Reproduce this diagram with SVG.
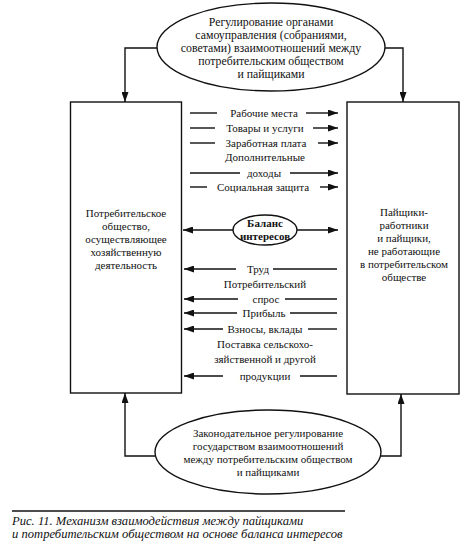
<svg xmlns="http://www.w3.org/2000/svg" width="474" height="550" viewBox="0 0 474 550">
<defs>
<marker id="ah" markerUnits="userSpaceOnUse" markerWidth="10" markerHeight="7" refX="10" refY="3.5" orient="auto">
<path d="M0,0 L10,3.5 L0,7 z" fill="#111"/>
</marker>
<style>
text{font-family:"Liberation Serif","Times New Roman",serif;font-size:11px;fill:#111;text-anchor:middle}
.b{font-weight:bold}
.big{font-size:11.8px}
.cap{font-style:italic;font-size:12.6px;text-anchor:start}
.shape{fill:#fff;stroke:#111;stroke-width:1.4}
.ln{fill:none;stroke:#111;stroke-width:1.4}
.ar{fill:none;stroke:#111;stroke-width:1.4;marker-end:url(#ah)}
</style>
</defs>
<rect width="474" height="550" fill="#fff"/>

<g id="connectors">
<path class="ar" d="M157,48 H125 V102"/>
<path class="ar" d="M385,48 H403 V102"/>
<path class="ar" d="M157,456 H125 V393"/>
<path class="ar" d="M380,456 H401 V394"/>
<path class="ln" d="M190,113 H217"/><path class="ar" d="M306,113 H338"/>
<path class="ln" d="M190,128 H215"/><path class="ar" d="M313,128 H338"/>
<path class="ln" d="M190,143 H215"/><path class="ar" d="M318,143 H338"/>
<path class="ln" d="M190,173 H240"/><path class="ar" d="M290,173 H338"/>
<path class="ln" d="M190,187 H207"/><path class="ar" d="M320,187 H338"/>
<path class="ar" d="M233,230 H183"/>
<path class="ar" d="M297,230 H338"/>
<path class="ar" d="M236,269 H184"/><path class="ln" d="M273,269 H337"/>
<path class="ar" d="M238,299 H184"/><path class="ln" d="M285,299 H337"/>
<path class="ar" d="M237,313 H184"/><path class="ln" d="M290,313 H337"/>
<path class="ar" d="M223,329 H184"/><path class="ln" d="M308,329 H337"/>
<path class="ar" d="M223,376 H184"/><path class="ln" d="M300,376 H337"/>
</g>

<g id="top-regulation">
<ellipse class="shape" cx="271" cy="47" rx="114" ry="44"/>
<text class="big" x="271" y="26">Регулирование органами</text>
<text class="big" x="271" y="39">самоуправления (собраниями,</text>
<text class="big" x="271" y="52">советами) взаимоотношений между</text>
<text class="big" x="271" y="65">потребительским обществом</text>
<text class="big" x="271" y="78">и пайщиками</text>
</g>

<g id="consumer-society">
<rect class="shape" x="70.5" y="102" width="111" height="291"/>
<text x="126" y="217">Потребительское</text>
<text x="126" y="230">общество,</text>
<text x="126" y="243">осуществляющее</text>
<text x="126" y="256">хозяйственную</text>
<text x="126" y="269">деятельность</text>
</g>

<g id="shareholders">
<rect class="shape" x="347" y="102" width="112" height="292"/>
<text x="404" y="216">Пайщики-</text>
<text x="404" y="229">работники</text>
<text x="404" y="242">и пайщики,</text>
<text x="404" y="255">не работающие</text>
<text x="404" y="268">в потребительском</text>
<text x="404" y="281">обществе</text>
</g>

<g id="balance">
<ellipse class="shape" cx="265" cy="230" rx="32" ry="15"/>
<text class="b" x="265" y="227">Баланс</text>
<text class="b" x="265" y="240">интересов</text>
</g>

<g id="flow-labels">
<text x="264" y="117">Рабочие места</text>
<text x="265" y="132">Товары и услуги</text>
<text x="266" y="147">Заработная плата</text>
<text x="265" y="161">Дополнительные</text>
<text x="264" y="177">доходы</text>
<text x="263" y="191">Социальная защита</text>
<text x="258" y="273">Труд</text>
<text x="265" y="288">Потребительский</text>
<text x="266" y="303">спрос</text>
<text x="264" y="317">Прибыль</text>
<text x="265" y="333">Взносы, вклады</text>
<text x="265" y="348">Поставка сельскохо-</text>
<text x="265" y="363">зяйственной и другой</text>
<text x="265" y="380">продукции</text>
</g>

<g id="bottom-regulation">
<ellipse class="shape" cx="268" cy="452" rx="113" ry="42"/>
<text x="268" y="437">Законодательное регулирование</text>
<text x="268" y="450">государством взаимоотношений</text>
<text x="268" y="463">между потребительским обществом</text>
<text x="268" y="476">и пайщиками</text>
</g>

<g id="caption">
<path class="ln" d="M12,511 H345" stroke-width="1"/>
<text class="cap" x="12" y="525">Рис. 11. Механизм взаимодействия между пайщиками</text>
<text class="cap" x="12" y="538">и потребительским обществом на основе баланса интересов</text>
</g>
</svg>
